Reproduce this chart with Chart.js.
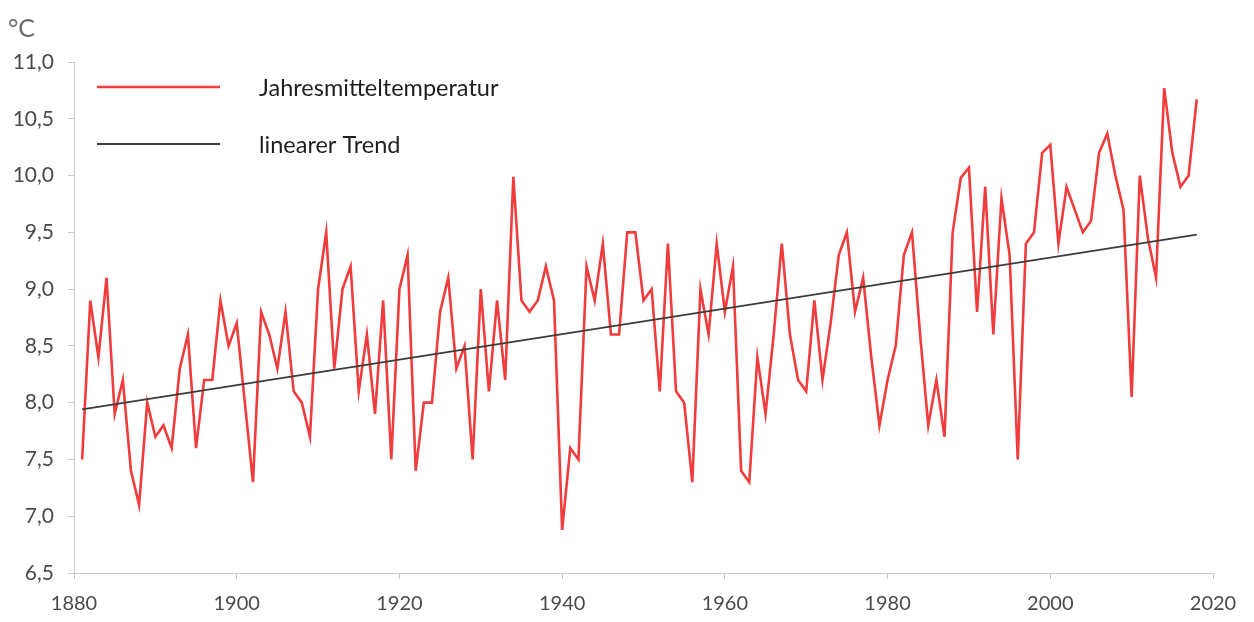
<!DOCTYPE html>
<html><head><meta charset="utf-8">
<script src="https://cdn.jsdelivr.net/npm/chart.js@4.4.0/dist/chart.umd.min.js"></script>
<style>html,body{margin:0;padding:0;background:#fff;}#wrap{width:1254px;height:622px;position:relative;}</style>
</head><body><div id="wrap"><canvas id="c" width="1254" height="622"></canvas></div>
<script>
const years = [
  1881,1882,1883,1884,1885,1886,1887,1888,1889,1890,
  1891,1892,1893,1894,1895,1896,1897,1898,1899,1900,
  1901,1902,1903,1904,1905,1906,1907,1908,1909,1910,
  1911,1912,1913,1914,1915,1916,1917,1918,1919,1920,
  1921,1922,1923,1924,1925,1926,1927,1928,1929,1930,
  1931,1932,1933,1934,1935,1936,1937,1938,1939,1940,
  1941,1942,1943,1944,1945,1946,1947,1948,1949,1950,
  1951,1952,1953,1954,1955,1956,1957,1958,1959,1960,
  1961,1962,1963,1964,1965,1966,1967,1968,1969,1970,
  1971,1972,1973,1974,1975,1976,1977,1978,1979,1980,
  1981,1982,1983,1984,1985,1986,1987,1988,1989,1990,
  1991,1992,1993,1994,1995,1996,1997,1998,1999,2000,
  2001,2002,2003,2004,2005,2006,2007,2008,2009,2010,
  2011,2012,2013,2014,2015,2016,2017,2018
];
const temperatures = [
  7.5, 8.9, 8.4, 9.1, 7.9, 8.2, 7.4, 7.1, 8.0, 7.7,
  7.8, 7.6, 8.3, 8.6, 7.6, 8.2, 8.2, 8.9, 8.5, 8.7,
  8.0, 7.3, 8.8, 8.6, 8.3, 8.8, 8.1, 8.0, 7.7, 9.0,
  9.5, 8.3, 9.0, 9.2, 8.1, 8.6, 7.9, 8.9, 7.5, 9.0,
  9.3, 7.4, 8.0, 8.0, 8.8, 9.1, 8.3, 8.5, 7.5, 9.0,
  8.1, 8.9, 8.2, 9.99, 8.9, 8.8, 8.9, 9.2, 8.9, 6.88,
  7.6, 7.5, 9.2, 8.9, 9.4, 8.6, 8.6, 9.5, 9.5, 8.9,
  9.0, 8.1, 9.4, 8.1, 8.0, 7.3, 9.0, 8.6, 9.4, 8.8,
  9.2, 7.4, 7.3, 8.4, 7.9, 8.6, 9.4, 8.6, 8.2, 8.1,
  8.9, 8.2, 8.7, 9.3, 9.5, 8.8, 9.1, 8.4, 7.8, 8.2,
  8.5, 9.3, 9.5, 8.6, 7.8, 8.2, 7.7, 9.5, 9.98, 10.07,
  8.8, 9.9, 8.6, 9.8, 9.3, 7.5, 9.4, 9.5, 10.2, 10.27,
  9.4, 9.9, 9.7, 9.5, 9.6, 10.2, 10.37, 10.0, 9.7, 8.05,
  10.0, 9.45, 9.1, 10.77, 10.2, 9.9, 10.0, 10.67
];
const trendYears = [1881, 2018];
const trendValues = [7.94, 9.48];
const xTickValues = [1880, 1900, 1920, 1940, 1960, 1980, 2000, 2020];
const yTickValues = [6.5, 7.0, 7.5, 8.0, 8.5, 9.0, 9.5, 10.0, 10.5, 11.0];
const seriesLabels = ['Jahresmitteltemperatur', 'linearer Trend'];
const unitLabel = '°C';

const axisColor = '#c3cad6';
const labelColor = '#4a4a4a';
const fontFamily = 'Lato, "Open Sans", sans-serif';

const legendPlugin = {
  id: 'customLegend',
  afterDraw(chart) {
    const ctx = chart.ctx;
    const lineY = [87, 144];
    const textY = [96, 153];
    chart.data.datasets.forEach((ds, i) => {
      ctx.save();
      ctx.strokeStyle = ds.borderColor;
      ctx.lineWidth = ds.borderWidth;
      ctx.beginPath();
      ctx.moveTo(97, lineY[i]);
      ctx.lineTo(220, lineY[i]);
      ctx.stroke();
      ctx.fillStyle = '#1e1e1e';
      ctx.font = '23.5px ' + fontFamily;
      ctx.textBaseline = 'alphabetic';
      ctx.textAlign = 'left';
      ctx.fillText(ds.label, 259, textY[i]);
      ctx.restore();
    });
    ctx.save();
    ctx.fillStyle = '#6a6a6a';
    ctx.font = '25px ' + fontFamily;
    ctx.textBaseline = 'alphabetic';
    ctx.textAlign = 'left';
    ctx.fillText(unitLabel, 8, 37);
    ctx.restore();
  }
};

new Chart(document.getElementById('c'), {
  type: 'line',
  data: {
    datasets: [
      {
        label: seriesLabels[0],
        data: years.map((y, i) => ({x: y, y: temperatures[i]})),
        borderColor: '#f03c3c',
        borderWidth: 2.6,
        pointRadius: 0,
        tension: 0,
        fill: false,
        order: 1
      },
      {
        label: seriesLabels[1],
        data: trendYears.map((y, i) => ({x: y, y: trendValues[i]})),
        borderColor: '#3c3c3c',
        borderWidth: 1.8,
        pointRadius: 0,
        tension: 0,
        fill: false,
        order: 0
      }
    ]
  },
  options: {
    responsive: false,
    devicePixelRatio: 1,
    animation: false,
    layout: { padding: { top: 62, right: 41, left: 0, bottom: 0 } },
    plugins: { legend: { display: false }, tooltip: { enabled: false }, title: { display: false } },
    scales: {
      x: {
        type: 'linear', min: 1880, max: 2020,
        afterBuildTicks: s => { s.ticks = xTickValues.map(v => ({ value: v })); },
        ticks: { callback: v => String(v), color: labelColor, font: { family: fontFamily, size: 20 }, padding: 13, maxRotation: 0, autoSkip: false },
        grid: { drawOnChartArea: false, drawTicks: true, tickLength: 6, color: axisColor },
        border: { display: true, color: axisColor, width: 1 },
        afterFit: s => { s.height = 49; }
      },
      y: {
        type: 'linear', min: 6.5, max: 11,
        afterBuildTicks: s => { s.ticks = yTickValues.map(v => ({ value: v })); },
        ticks: { callback: v => Number(v).toFixed(1).replace('.', ','), color: labelColor, font: { family: fontFamily, size: 21 }, padding: 14, autoSkip: false },
        grid: { drawOnChartArea: false, drawTicks: true, tickLength: 6, color: axisColor },
        border: { display: true, color: axisColor, width: 1 },
        afterFit: s => { s.width = 74; }
      }
    }
  },
  plugins: [legendPlugin]
});
</script>
</body></html>
